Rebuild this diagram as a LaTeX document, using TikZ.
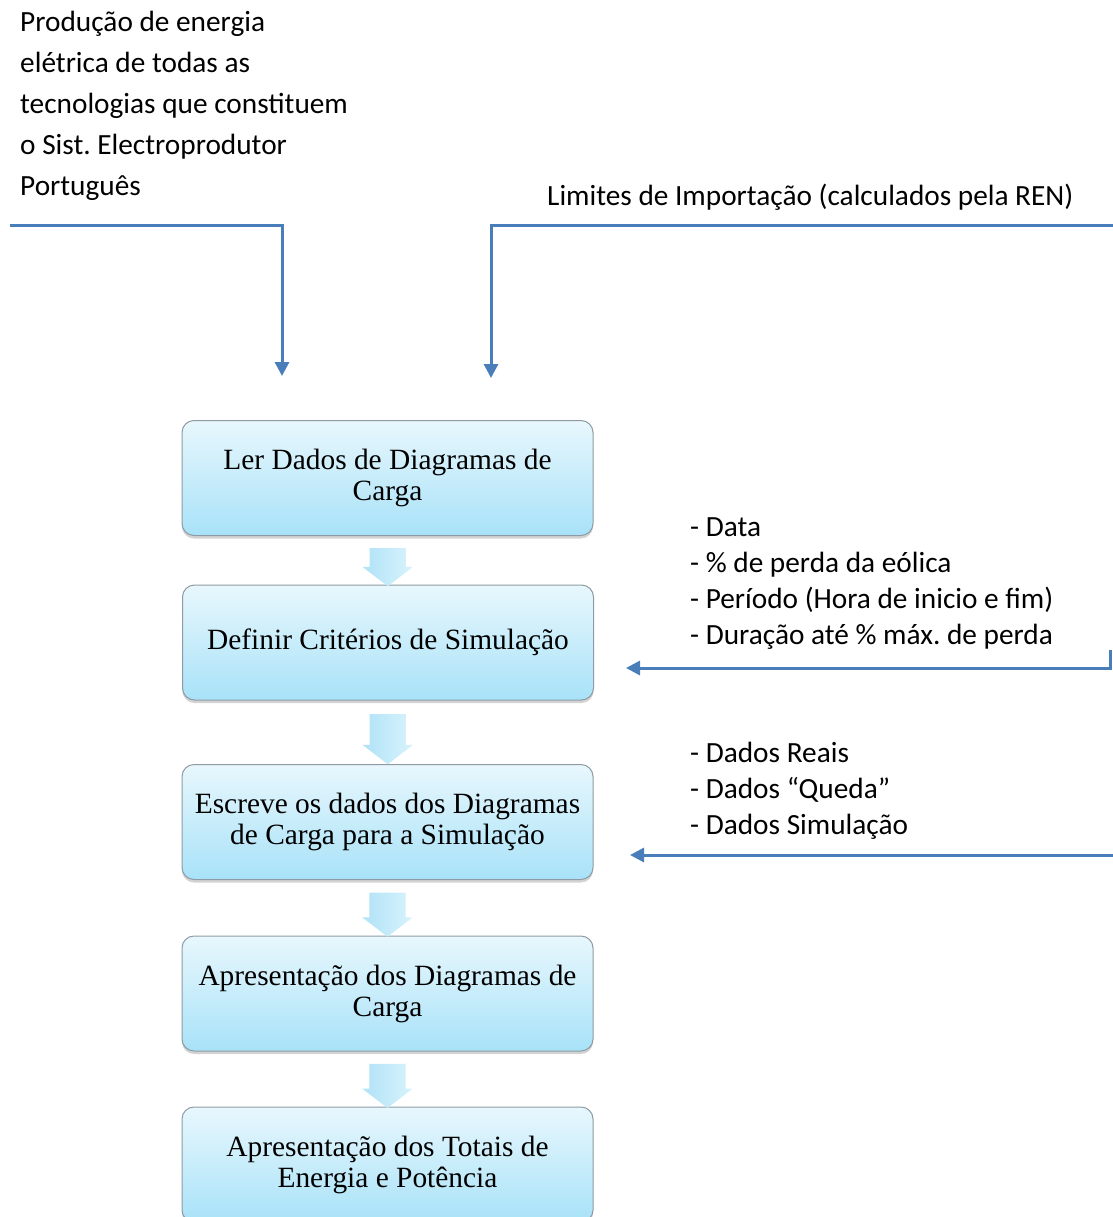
\documentclass[tikz,border=0pt]{standalone}
\usepackage{fontspec}
\setmainfont{Liberation Serif}
\newfontfamily\notefont{Carlito}
\usetikzlibrary{arrows.meta,shadows,shapes.arrows,calc}
\definecolor{linkblue}{HTML}{4A7EBB}
\definecolor{boxtop}{HTML}{E8F7FD}
\definecolor{boxbot}{HTML}{A8E2F8}
\definecolor{boxline}{HTML}{8E9BA4}
\definecolor{arrtop}{HTML}{B0E2F7}
\definecolor{arrbot}{HTML}{D8F3FC}

\begin{document}
\begin{tikzpicture}[x=1pt,y=-1pt,
    stage/.style={draw=boxline,line width=1pt,rounded corners=12pt,
      top color=boxtop,bottom color=boxbot,
      minimum width=411pt,minimum height=115pt,align=center,
      font=\fontsize{29.4}{31}\selectfont,
      drop shadow={shadow xshift=0pt,shadow yshift=-3pt,opacity=.35}},
    down/.style={single arrow,rotate=-90,left color=arrtop,right color=arrbot,
      inner xsep=0pt,inner ysep=18pt,single arrow head extend=7pt,
      single arrow tip angle=105},
    note/.style={font=\notefont\fontsize{29.3}{36}\selectfont,align=left,
      anchor=base west,inner sep=0pt},
    flow/.style={draw=linkblue,line width=3pt,-{Triangle[length=14pt,width=14pt]}}]
  \useasboundingbox (0,0) rectangle (1112,1217);

  \path (387.5,478)   node[stage] (read)  {Ler Dados de Diagramas de\\Carga}
        (388,642.5)   node[stage] (crit)  {Definir Critérios de Simulação}
        (387.5,822)   node[stage] (write) {Escreve os dados dos Diagramas\\de Carga para a Simulação}
        (387.5,993.5) node[stage] (show)  {Apresentação dos Diagramas de\\Carga}
        (387.5,1164.5) node[stage] (total) {Apresentação dos Totais de\\Energia e Potência};

  \foreach \a/\b/\len in {read/crit/38,crit/write/50,write/show/44,show/total/44}
    \node[down,minimum height=\len pt] at ($(\a.south)!.5!(\b.north)$) {};

  % inputs (placed at the baseline of their last line)
  \path (20,196)  node[note,font=\notefont\fontsize{29.3}{41}\selectfont] (prod)
          {Produção de energia\\elétrica de todas as\\tecnologias que constituem\\o Sist.\ Electroprodutor\\Português}
        (547,205) node[note] (ren) {Limites de Importação (calculados pela REN)}
        (690,644) node[note] (crits) {- Data\\- \% de perda da eólica\\- Período (Hora de inicio e fim)\\- Duração até \% máx.\ de perda}
        (690,834) node[note] (dados) {- Dados Reais\\- Dados “Queda”\\- Dados Simulação};

  \coordinate (prodA) at (10,225);
  \coordinate (prodB) at (282,376);
  \coordinate (renA)  at (1114,225);
  \coordinate (renB)  at (491,378);
  \coordinate (critA) at (1110,650);
  \coordinate (critB) at (626,668);
  \coordinate (dataA) at (1114,855);
  \coordinate (dataB) at (630,855);
  \draw[flow] (prodA) -| (prodB);
  \draw[flow] (renA) -| (renB);
  \draw[flow] (critA) |- (critB);
  \draw[flow] (dataA) -- (dataB);
\end{tikzpicture}
\end{document}
